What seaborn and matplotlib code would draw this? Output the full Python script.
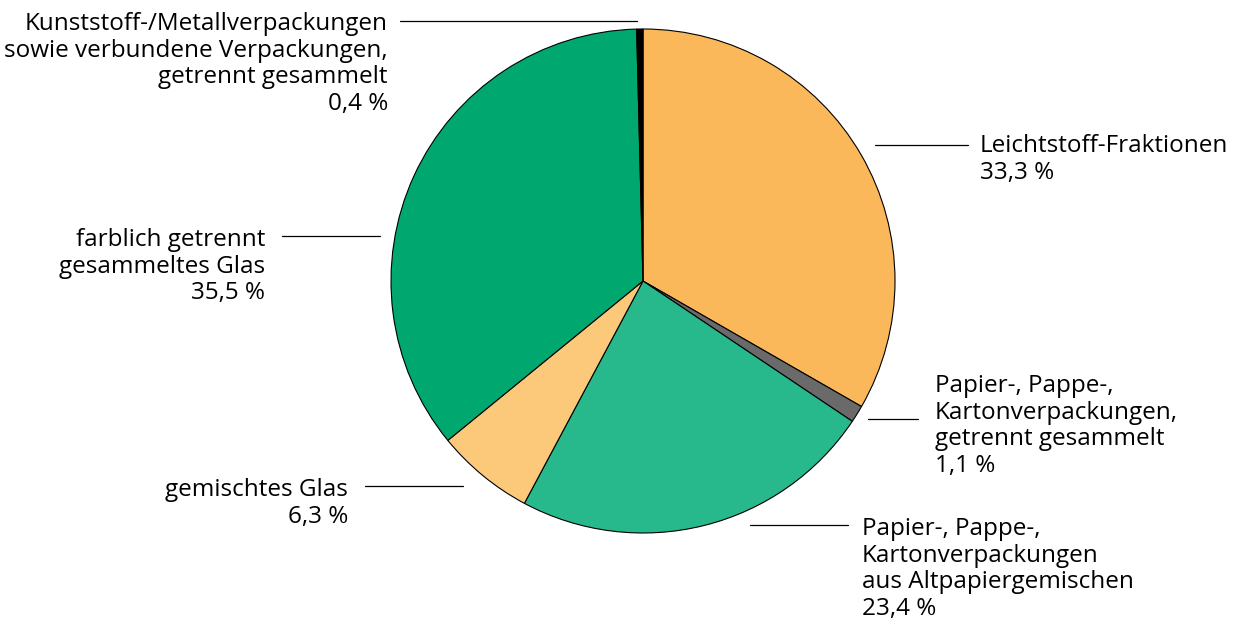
import matplotlib.pyplot as plt
import seaborn as sns

sns.set_theme(style="white")
plt.rcParams["font.family"] = ["Open Sans", "DejaVu Sans"]

# slice data, clockwise from 12 o'clock
labels = [
    "Leichtstoff-Fraktionen",
    "Papier-, Pappe-,\nKartonverpackungen,\ngetrennt gesammelt",
    "Papier-, Pappe-,\nKartonverpackungen\naus Altpapiergemischen",
    "gemischtes Glas",
    "farblich getrennt\ngesammeltes Glas",
    "Kunststoff-/Metallverpackungen\nsowie verbundene Verpackungen,\ngetrennt gesammelt",
]
shares = [33.3, 1.1, 23.4, 6.3, 35.5, 0.4]
colors = ["#FBB85A", "#6A6A6A", "#27B98B", "#FCC97A", "#00A870", "#000000"]

W, H = 1240, 621
fig = plt.figure(figsize=(W / 100, H / 100), dpi=100)

cx, cy, r = 643, 281, 252
ax = fig.add_axes([(cx - r) / W, (H - cy - r) / H, 2 * r / W, 2 * r / H])
ax.pie(shares, colors=colors, startangle=90, counterclock=False, radius=1,
       wedgeprops=dict(edgecolor="black", linewidth=0.8))
ax.set_xlim(-1, 1)
ax.set_ylim(-1, 1)
ax.set_aspect("auto")
ax.axis("off")


def fx(x):
    return x / W


def fy(y):
    return 1 - y / H


# label placement in pixels: text anchor x, text top y, alignment, leader line
layout = [
    (980, 134, "left", (875, 968, 145)),
    (935, 374, "left", (868, 918, 419)),
    (862, 517, "left", (750, 848, 525)),
    (348, 478, "right", (365, 463, 486)),
    (265, 228, "right", (282, 380, 236)),
    (388, 12, "right", (400, 637, 21)),
]

for lab, val, (tx, ty, ha, (x0, x1, ly)) in zip(labels, shares, layout):
    txt = lab + "\n" + f"{val:.1f}".replace(".", ",") + " %"
    fig.text(fx(tx), fy(ty), txt, ha=ha, va="top", multialignment=ha,
             fontsize=17.5, linespacing=1.15, color="black")
    fig.add_artist(plt.Line2D([fx(x0), fx(x1)], [fy(ly), fy(ly)],
                              color="black", linewidth=0.9))

fig.savefig("out.png", dpi=100)
